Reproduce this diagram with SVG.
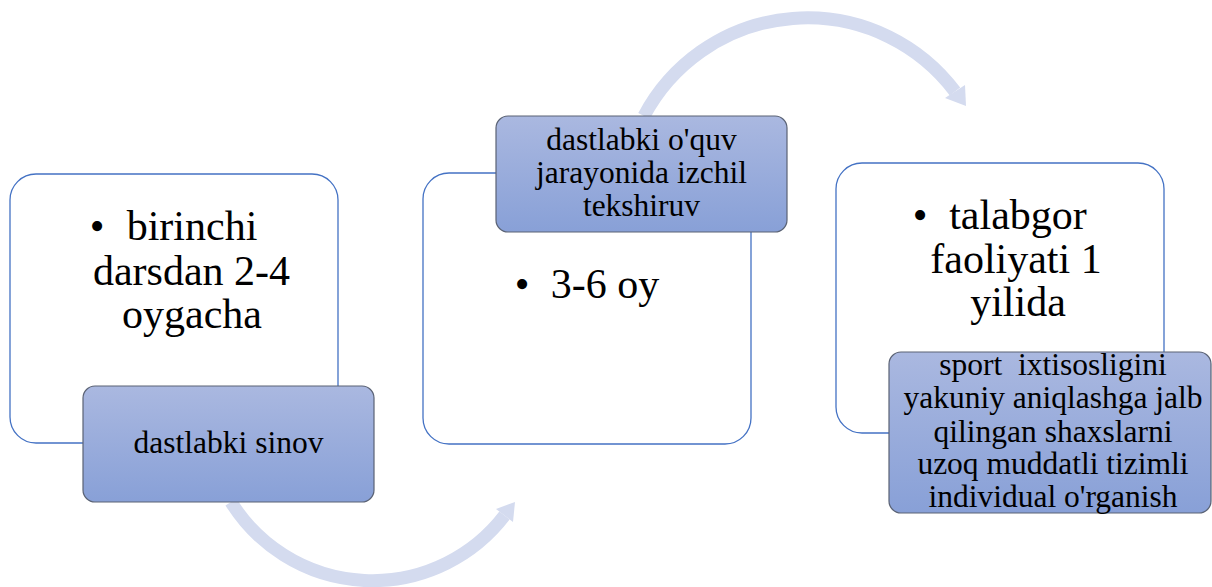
<svg xmlns="http://www.w3.org/2000/svg" width="1212" height="587" viewBox="0 0 1212 587">
  <defs>
    <linearGradient id="blueFill" x1="0" y1="0" x2="0" y2="1">
      <stop offset="0" stop-color="#aab8e0"/>
      <stop offset="1" stop-color="#88a0d7"/>
    </linearGradient>
    <style>
      .card { fill: #ffffff; stroke: #4472c4; stroke-width: 1.3; }
      .tag { fill: url(#blueFill); stroke: #5a6274; stroke-width: 1.2; }
      text { font-family: 'Liberation Serif', 'Times New Roman', Times, Tinos, 'DejaVu Serif', 'Noto Serif', serif; }
      .big { font-size: 42px; fill: #000; text-anchor: middle; }
      .small { font-size: 31.5px; fill: #000; text-anchor: middle; white-space: pre; }
      .arc { fill: none; stroke: #d4dbef; stroke-width: 13; }
      .head { fill: #d4dbef; }
    </style>
  </defs>

  <!-- curved flow arrows between the steps -->
  <g id="connectors">
    <path class="arc" d="M 231 502 A 166.5 166.5 0 0 0 504.5 515.5"/>
    <polygon class="head" points="515,502 496,509 513,522"/>
    <path class="arc" d="M 644 116 A 184.9 184.9 0 0 1 955 91.5"/>
    <polygon class="head" points="966,106 945,98 965,85"/>
  </g>

  <!-- step 1 -->
  <g id="step1">
    <rect class="card" x="10" y="174" width="328" height="269" rx="26"/>
    <text class="big" x="97" y="240">•</text>
    <text class="big" x="192" y="240">birinchi</text>
    <text class="big" x="191.5" y="285">darsdan 2-4</text>
    <text class="big" x="192" y="328">oygacha</text>
  </g>
  <g id="step1-label">
    <rect class="tag" x="83" y="386" width="291" height="116" rx="12"/>
    <text class="small" x="228.5" y="453">dastlabki sinov</text>
  </g>

  <!-- step 2 -->
  <g id="step2">
    <rect class="card" x="423" y="173" width="328" height="271" rx="26"/>
    <text class="big" x="522" y="298">•</text>
    <text class="big" x="605" y="298">3-6 oy</text>
  </g>
  <g id="step2-label">
    <rect class="tag" x="496" y="116" width="291" height="116" rx="12"/>
    <text class="small" x="641.5" y="150">dastlabki o'quv</text>
    <text class="small" x="641.5" y="183">jarayonida izchil</text>
    <text class="small" x="641.5" y="216">tekshiruv</text>
  </g>

  <!-- step 3 -->
  <g id="step3">
    <rect class="card" x="836" y="163" width="328" height="270" rx="26"/>
    <text class="big" x="920" y="229">•</text>
    <text class="big" x="1018" y="229">talabgor</text>
    <text class="big" x="1016" y="273">faoliyati 1</text>
    <text class="big" x="1018" y="316">yilida</text>
  </g>
  <g id="step3-label">
    <rect class="tag" x="889" y="352" width="322" height="161" rx="12"/>
    <text class="small" x="1053" y="375">sport  ixtisosligini</text>
    <text class="small" x="1053" y="408">yakuniy aniqlashga jalb</text>
    <text class="small" x="1053" y="442">qilingan shaxslarni</text>
    <text class="small" x="1053" y="474">uzoq muddatli tizimli</text>
    <text class="small" x="1053" y="507">individual o'rganish</text>
  </g>
</svg>
